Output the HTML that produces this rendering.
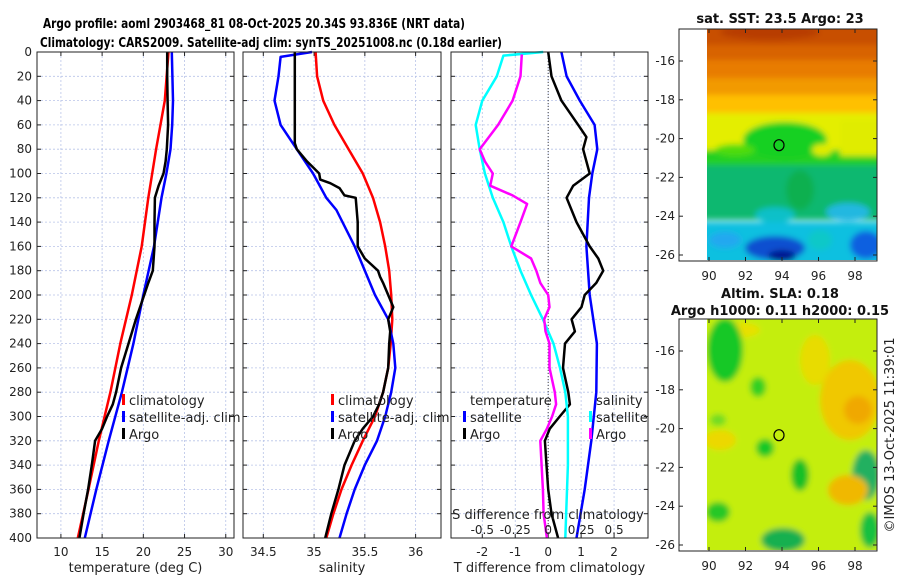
<!DOCTYPE html>
<html><head><meta charset="utf-8"><style>
body{margin:0;background:#fff}
svg{display:block;font-family:"DejaVu Sans","Liberation Sans",sans-serif}
</style></head><body>
<svg id="fig" width="900" height="580" viewBox="0 0 900 580" xmlns="http://www.w3.org/2000/svg">
<defs>
<filter id="blur1" x="-20%" y="-20%" width="140%" height="140%"><feGaussianBlur stdDeviation="5"/></filter>
<filter id="blur2" x="-20%" y="-20%" width="140%" height="140%"><feGaussianBlur stdDeviation="3"/></filter>
<clipPath id="clipSST"><rect x="707" y="29" width="170" height="231"/></clipPath>
<clipPath id="clipSLA"><rect x="707" y="319" width="170" height="231"/></clipPath>
</defs>
<text x="254" y="28" text-anchor="middle" font-weight="bold" font-size="13" textLength="422" lengthAdjust="spacingAndGlyphs">Argo profile: aoml 2903468_81 08-Oct-2025 20.34S 93.836E (NRT data)</text>
<text x="271" y="47" text-anchor="middle" font-weight="bold" font-size="13" textLength="462" lengthAdjust="spacingAndGlyphs">Climatology: CARS2009. Satellite-adj clim: synTS_20251008.nc (0.18d earlier)</text>
<g id="p1"></g>
<g id="p2"></g>
<g id="p3"></g>
<g id="m1"></g>
<g id="m2"></g>
<text transform="translate(894,435) rotate(-90)" text-anchor="middle" font-size="13" fill="#222">©IMOS 13-Oct-2025 11:39:01</text>
</svg>
<script>
// ---- data ----
const depthTicks = [0,20,40,60,80,100,120,140,160,180,200,220,240,260,280,300,320,340,360,380,400];
const tTicks = [10,15,20,25,30];
const sTicks = [34.5,35,35.5,36];
const dTTicks = [-2,-1,0,1,2];
const dSTicks = [-0.5,-0.25,0,0.25,0.5];
const dSTickLabels = ['-0.5','-0.25','0','0.25','0.5'];

const climDepth = [0,40,80,120,160,200,240,280,320,360,400];
const climT = [23.05,22.6,21.55,20.6,19.8,18.6,17.2,16.0,14.6,13.35,12.05];
const satTDepth = [0,40,60,80,100,120,160,200,240,280,320,360,400];
const satT = [23.45,23.6,23.5,23.3,22.8,22.2,21.3,20.0,18.8,17.4,15.8,14.3,12.9];
const argoTDepth = [0,20,40,60,80,90,100,110,120,140,160,180,190,200,220,240,260,280,290,300,310,320,340,360,380,400];
const argoT = [22.9,22.9,22.95,23.0,22.85,22.7,22.45,21.85,21.4,21.35,21.35,21.15,20.6,20.1,19.1,18.2,17.3,16.7,16.3,15.6,15.0,14.15,13.75,13.3,12.75,12.25];

const climSDepth = [0,20,40,60,80,100,120,140,160,180,200,220,240,260,280,300,320,340,360,380,400];
const climS = [35.015,35.03,35.09,35.2,35.34,35.48,35.58,35.65,35.70,35.74,35.76,35.77,35.755,35.73,35.68,35.6,35.48,35.37,35.27,35.19,35.12];
const satSDepth = [0,4,20,40,60,80,100,120,130,160,200,220,240,260,280,300,320,340,360,380,400];
const satS = [34.98,34.67,34.65,34.61,34.67,34.83,34.99,35.12,35.22,35.40,35.60,35.73,35.78,35.80,35.76,35.70,35.62,35.50,35.40,35.32,35.25];
const argoSDepth = [0,20,40,60,75,80,85,90,95,100,105,108,112,118,120,140,160,170,180,185,190,200,210,220,230,240,260,280,290,300,310,320,340,360,380,400];
const argoS = [34.81,34.81,34.81,34.81,34.81,34.83,34.88,34.93,34.99,35.05,35.06,35.16,35.25,35.30,35.41,35.43,35.43,35.50,35.63,35.65,35.68,35.73,35.78,35.73,35.75,35.74,35.73,35.68,35.64,35.58,35.48,35.40,35.30,35.24,35.17,35.11];

const dSatTDepth = [0,20,40,60,80,100,120,160,200,240,280,320,360,400];
const dSatT = [0.40,0.56,0.96,1.41,1.49,1.34,1.24,1.16,1.26,1.48,1.46,1.31,1.11,0.86];
const dArgoTDepth = [0,20,40,60,70,80,100,110,120,140,160,170,180,190,200,210,220,230,240,260,280,290,300,310,320,340,360,380,400];
const dArgoT = [0,0.1,0.4,0.91,1.16,1.06,1.26,0.76,0.56,0.86,1.26,1.52,1.67,1.46,1.11,1.01,0.71,0.81,0.51,0.45,0.61,0.66,0.35,0.05,-0.1,-0.05,0,0.1,0.3];
const dSatSDepth = [0,3,20,40,60,80,100,120,140,160,180,200,220,240,260,280,300,340,400];
const dSatS = [-0.038,-0.34,-0.39,-0.5,-0.55,-0.52,-0.48,-0.42,-0.34,-0.28,-0.21,-0.13,-0.04,0.04,0.09,0.13,0.15,0.15,0.13];
const dArgoSDepth = [2,20,40,60,80,90,100,110,118,125,140,160,170,180,190,200,210,220,230,240,260,280,290,300,310,320,340,360,380,400];
const dArgoS = [-0.2,-0.21,-0.27,-0.38,-0.52,-0.48,-0.42,-0.44,-0.27,-0.16,-0.21,-0.28,-0.13,-0.09,-0.06,0,0.01,-0.03,-0.02,0.01,0.01,0.05,0.06,0.03,-0.01,-0.06,-0.05,-0.04,-0.035,-0.01];

const lonTicks = [90,92,94,96,98];
const latTicks = [-16,-18,-20,-22,-24,-26];
const argoLon = [93.836];
const argoLat = [-20.34];
</script>
<script>
const NS='http://www.w3.org/2000/svg';
function mk(tag, attrs, parent){const e=document.createElementNS(NS,tag);for(const k in attrs)e.setAttribute(k,attrs[k]);parent.appendChild(e);return e;}
const Y0=52, Y1=538;
function yD(d){return Y0+(d-0)/400*(Y1-Y0);}

function panel(g, x0, x1, vmin, vmax, ticks, labels, showDepthLabels, title, name){
  const xs=v=>x0+(v-vmin)/(vmax-vmin)*(x1-x0);
  depthTicks.forEach(d=>{
    const l=mk('line',{x1:x0,x2:x1,y1:yD(d),y2:yD(d),stroke:'#b8c4e8','stroke-width':0.8,'stroke-dasharray':'2,2'},g);
    
    
  });
  ticks.forEach((v,i)=>{
    const l=mk('line',{x1:xs(v),x2:xs(v),y1:Y0,y2:Y1,stroke:'#b8c4e8','stroke-width':0.8,'stroke-dasharray':'2,2'},g);
    
    
    for(const yy of [[Y0,Y0+4],[Y1,Y1-4]]) mk('line',{x1:xs(v),x2:xs(v),y1:yy[0],y2:yy[1],stroke:'#222','stroke-width':1},g);
    const t=mk('text',{x:xs(v),y:556,'text-anchor':'middle','font-size':12,fill:'#222'},g);
    t.textContent=labels?labels[i]:String(v);
    
    
  });
  depthTicks.forEach(d=>{
    mk('line',{x1:x0,x2:x0+4,y1:yD(d),y2:yD(d),stroke:'#222'},g);
    mk('line',{x1:x1,x2:x1-4,y1:yD(d),y2:yD(d),stroke:'#222'},g);
    if(showDepthLabels){
      const t=mk('text',{x:32,y:yD(d)+4,'text-anchor':'end','font-size':12,fill:'#222'},g);
      t.textContent=String(d);
      
      
    }
  });
  const t=mk('text',{x:(x0+x1)/2,y:572,'text-anchor':'middle','font-size':13,fill:'#222'},g);
  t.textContent=title;
  
  
  return xs;
}
function frame(g,x0,x1){
  const r=mk('rect',{x:x0,y:Y0,width:x1-x0,height:Y1-Y0,fill:'none',stroke:'#222','stroke-width':1},g);
  
  
}
function line(g, xs, vals, depths, color, name){
  const pts=vals.map((v,i)=>xs(v).toFixed(1)+','+yD(depths[i]).toFixed(1)).join(' ');
  const p=mk('polyline',{points:pts,fill:'none',stroke:color,'stroke-width':2.5,'stroke-linejoin':'round'},g);
  
  
}
function legend(g, x, y, entries){
  entries.forEach((e,i)=>{
    const yy=y+i*17;
    if(e[1]) mk('rect',{x:x-7,y:yy-11,width:3,height:11,fill:e[1]},g);
    const t=mk('text',{x:x,y:yy,'font-size':13,fill:'#222'},g);
    t.textContent=e[0];
    
    
  });
}

const g1=document.getElementById('p1');
const xT=panel(g1,37,234,7.1,31.0,tTicks,null,true,'temperature (deg C)','temperature');
line(g1,xT,climT,climDepth,'#f00','climatology-temperature-line');
line(g1,xT,satT,satTDepth,'#00f','satellite-temperature-line');
line(g1,xT,argoT,argoTDepth,'#000','argo-temperature-line');
frame(g1,37,234);
legend(g1,129,405,[['climatology','#f00'],['satellite-adj. clim','#00f'],['Argo','#000']]);

const g2=document.getElementById('p2');
const xS=panel(g2,243,441,34.30,36.25,sTicks,null,false,'salinity','salinity');
line(g2,xS,climS,climSDepth,'#f00','climatology-salinity-line');
line(g2,xS,satS,satSDepth,'#00f','satellite-salinity-line');
line(g2,xS,argoS,argoSDepth,'#000','argo-salinity-line');
frame(g2,243,441);
legend(g2,338,405,[['climatology','#f00'],['satellite-adj. clim','#00f'],['Argo','#000']]);

const g3=document.getElementById('p3');
const xDT=panel(g3,451,648,-2.95,3.03,dTTicks,null,false,'T difference from climatology','t-difference');
const xDS=v=>xDT(v*4);
const zl=mk('line',{x1:xDT(0),x2:xDT(0),y1:Y0,y2:Y1,stroke:'#444','stroke-width':1,'stroke-dasharray':'1,2'},g3);


line(g3,xDT,dSatT,dSatTDepth,'#00f','satellite-t-difference-line');
line(g3,xDT,dArgoT,dArgoTDepth,'#000','argo-t-difference-line');
line(g3,xDS,dSatS,dSatSDepth,'#0ff','satellite-s-difference-line');
line(g3,xDS,dArgoS,dArgoSDepth,'#f0f','argo-s-difference-line');
frame(g3,451,648);
legend(g3,470,405,[['temperature',null],['satellite','#00f'],['Argo','#000']]);
legend(g3,596,405,[['salinity',null],['satellite','#0ff'],['Argo','#f0f']]);
const st=mk('text',{x:548,y:519,'text-anchor':'middle','font-size':13,fill:'#222'},g3);
st.textContent='S difference from climatology';


dSTicks.forEach((v,i)=>{
  const t=mk('text',{x:xDS(v),y:534,'text-anchor':'middle','font-size':12,fill:'#222'},g3);
  t.textContent=dSTickLabels[i];
  
  
});

function mapAxes(g, top, titles){
  const bx0=679,bx1=877,by0=top,by1=top+232;
  const lx=v=>709+(v-90)*18.25;
  const ly=v=>top+32+(-16-v)*19.4;
  return {lx,ly,finish:function(){
    const r=mk('rect',{x:bx0,y:by0,width:bx1-bx0,height:by1-by0,fill:'none',stroke:'#222'},g);
    
    
    lonTicks.forEach(v=>{
      mk('line',{x1:lx(v),x2:lx(v),y1:by0,y2:by0+4,stroke:'#222'},g);
      mk('line',{x1:lx(v),x2:lx(v),y1:by1,y2:by1-4,stroke:'#222'},g);
      const t=mk('text',{x:lx(v),y:by1+19,'text-anchor':'middle','font-size':12,fill:'#222'},g);
      t.textContent=String(v);
      
      
    });
    latTicks.forEach(v=>{
      mk('line',{x1:bx0,x2:bx0+4,y1:ly(v),y2:ly(v),stroke:'#222'},g);
      mk('line',{x1:bx1,x2:bx1-4,y1:ly(v),y2:ly(v),stroke:'#222'},g);
      const t=mk('text',{x:675,y:ly(v)+4,'text-anchor':'end','font-size':12,fill:'#222'},g);
      t.textContent=String(v);
      
      
    });
    const c=mk('ellipse',{cx:lx(argoLon[0]),cy:ly(argoLat[0]),rx:5,ry:5.5,fill:'none',stroke:'#000','stroke-width':1.2},g);
    
    
    titles.forEach(tt=>{
      const t=mk('text',{x:780,y:tt[1],'text-anchor':'middle','font-size':13,'font-weight':'bold',fill:'#111'},g);
      t.textContent=tt[0];
      
      
    });
  }};
}
function blobs(g, clip, list, filt){
  const cg=mk('g',{'clip-path':'url(#'+clip+')'},g);
  const bg=mk('g',{filter:'url(#'+filt+')'},cg);
  list.forEach(b=>{
    if(b[0]==='r') mk('rect',{x:b[1],y:b[2],width:b[3],height:b[4],fill:b[5]},bg);
    else mk('ellipse',{cx:b[1],cy:b[2],rx:b[3],ry:b[4],fill:b[5]},bg);
  });
  return cg;
}
const gm1=document.getElementById('m1');
const A=mapAxes(gm1,29,[['sat. SST: 23.5 Argo: 23',23]]);
blobs(gm1,'clipSST',[
 ['r',690,10,210,35,'#c85000'],
 ['e',770,32,50,8,'#b83c00'],
 ['r',690,45,210,15,'#d86400'],
 ['r',690,60,210,18,'#e87c00'],
 ['r',690,78,210,17,'#f29a00'],
 ['r',690,95,210,18,'#ffc000'],
 ['r',690,113,210,40,'#e4ee00'],
 ['r',690,150,210,18,'#20d020'],
 ['e',785,140,42,18,'#18d020'],
 ['e',735,150,20,6,'#50dc10'],
 ['r',840,120,60,36,'#e0ec00'],
 ['e',822,150,10,6,'#e0ec00'],
 ['r',690,165,210,55,'#10b870'],
 ['e',800,190,14,20,'#10b050'],
 ['e',775,215,20,8,'#10c0c8'],
 ['e',848,212,22,9,'#20b8e0'],
 ['r',690,222,210,50,'#10c0e0'],
 ['e',725,240,16,8,'#20a8f0'],
 ['e',775,248,30,12,'#1050d0'],
 ['e',782,256,14,6,'#001890'],
 ['e',866,245,16,14,'#1060e0'],
 ['e',820,240,12,10,'#10c8c8']
],'blur2');
A.finish();
const gm2=document.getElementById('m2');
const B=mapAxes(gm2,319,[['Altim. SLA: 0.18',298],['Argo h1000: 0.11 h2000: 0.15',315]]);
blobs(gm2,'clipSLA',[
 ['r',690,300,210,270,'#c4ee10'],
 ['e',735,330,25,8,'#e8e000'],
 ['e',725,350,18,32,'#18c828'],
 ['e',758,387,8,10,'#30d020'],
 ['e',850,400,30,40,'#f0c800'],
 ['e',858,410,14,14,'#f0a800'],
 ['e',815,360,15,25,'#e8dc00'],
 ['e',765,448,9,9,'#18c828'],
 ['e',720,440,16,10,'#ecd800'],
 ['e',800,475,9,16,'#18c028'],
 ['e',866,475,14,25,'#20b060'],
 ['e',848,490,20,15,'#f0b800'],
 ['e',718,512,12,10,'#28c828'],
 ['e',783,540,22,12,'#18b050'],
 ['e',870,530,10,18,'#18c040'],
 ['e',718,420,8,6,'#70dc20']
],'blur2');
B.finish();
</script>
</body></html>
